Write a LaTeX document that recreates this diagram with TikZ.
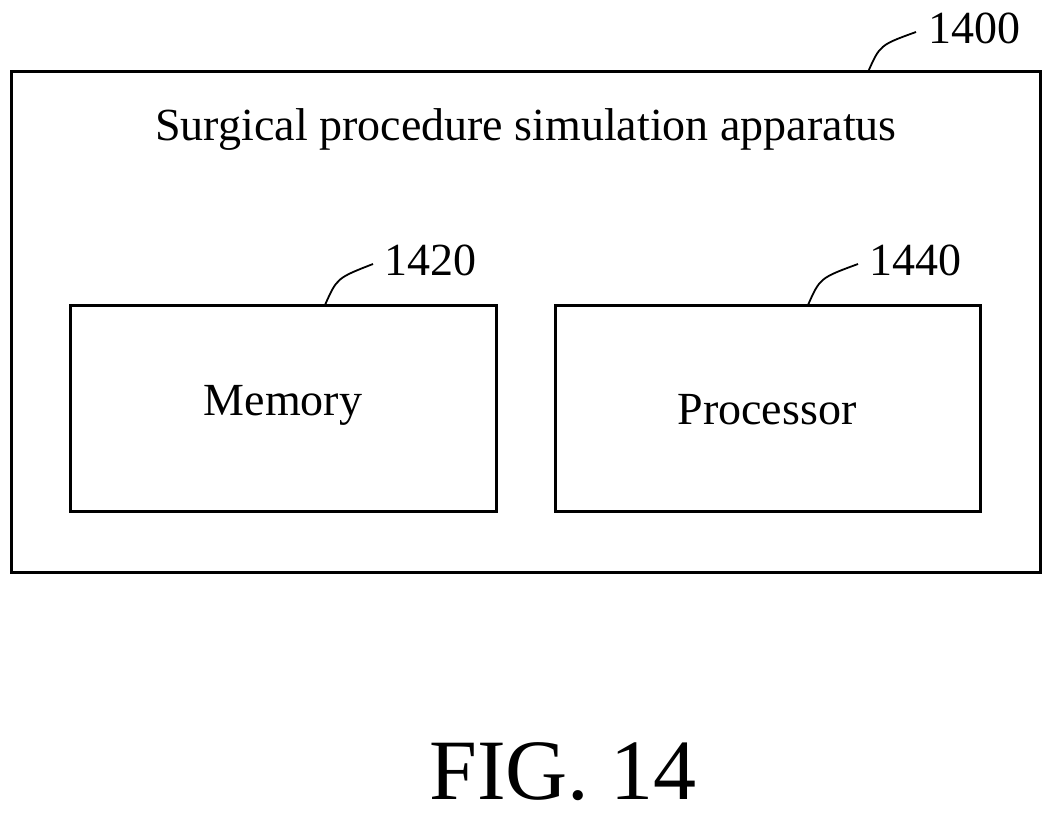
\documentclass[tikz,border=0pt]{standalone}
\usepackage{fontspec}
\setmainfont{Liberation Serif}
\begin{document}
\begin{tikzpicture}[x=1pt,y=-1pt,
  box/.style={draw,line width=3pt,inner sep=0pt},
  lead/.style={line width=1.8pt},
  txt/.style={font=\fontsize{46}{54}\selectfont},
  num/.style={font=\fontsize{46}{54}\selectfont}]
\useasboundingbox (0,0) rectangle (1055,821);
\draw[box] (11,72) rectangle (1040,572);
\draw[box] (70,305) rectangle (496,511);
\draw[box] (555,305) rectangle (980,511);
\node[txt] (title) at (526,130) {Surgical procedure simulation apparatus};
\node[txt] (mem) at (283,405) {Memory};
\node[txt] (proc) at (767,410) {Processor};
\node[font=\fontsize{86}{100}\selectfont] (fig) at (563,772) {FIG. 14};
\node[num] (n1400) at (974,28) {1400};
\node[num] (n1420) at (430,260) {1420};
\node[num] (n1440) at (915,260) {1440};
\coordinate (a) at (868,72);
\coordinate (b) at (325,305);
\coordinate (c) at (808,305);
\draw[lead] (a) .. controls (880,45) .. (916,32);
\draw[lead] (b) .. controls (337,278) .. (373,264);
\draw[lead] (c) .. controls (820,278) .. (858,264);
\end{tikzpicture}
\end{document}
